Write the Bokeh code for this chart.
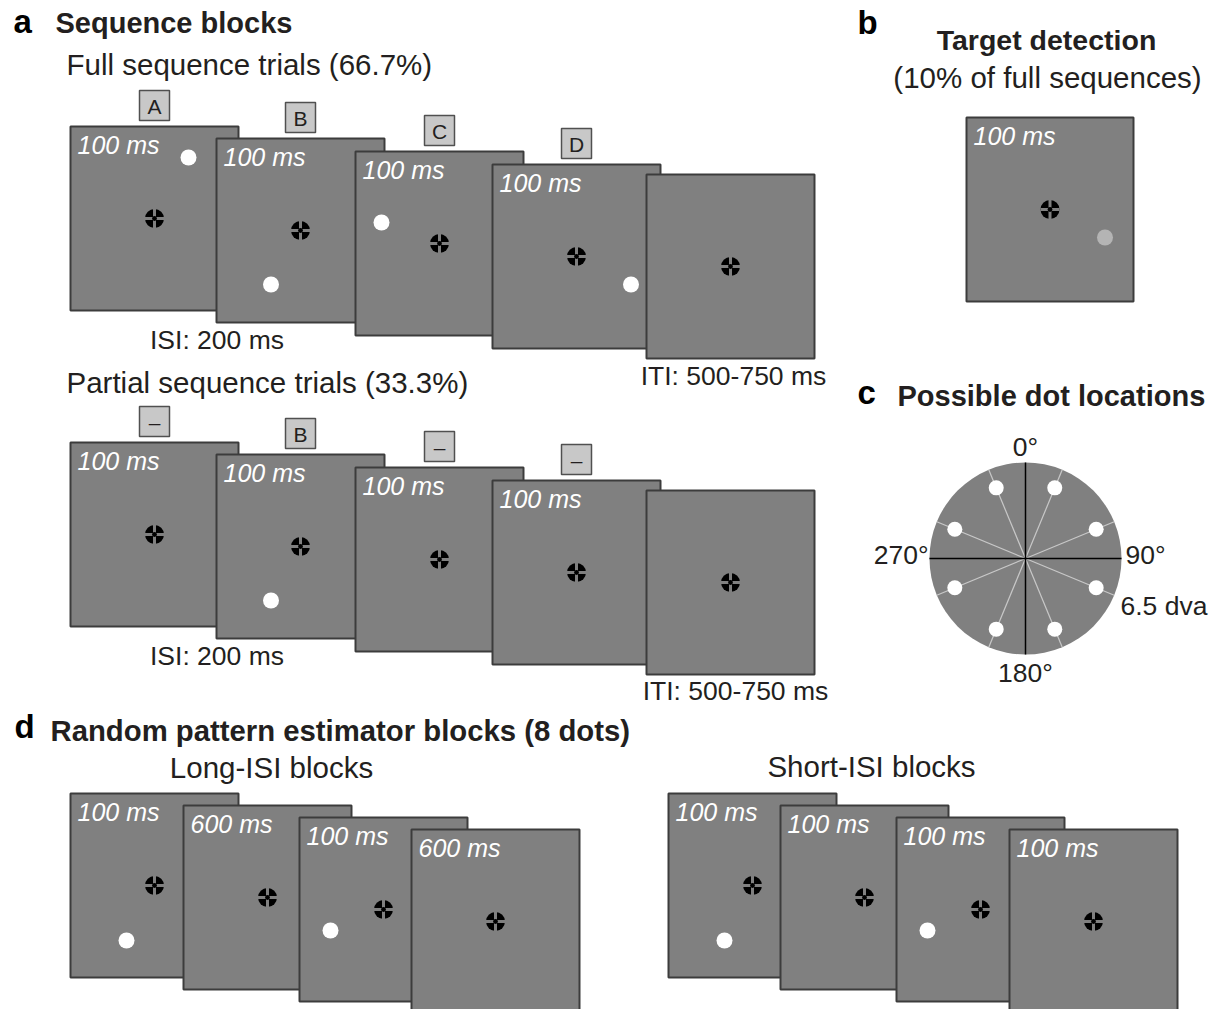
import numpy as np
from bokeh.plotting import figure
from bokeh.models import Range1d
from bokeh.core.properties import value
from bokeh.embed import file_html
from bokeh.resources import INLINE

# ---------------- content (labels / values) ----------------
full_labels = ["A", "B", "C", "D", None]
partial_labels = ["\u2013", "B", "\u2013", "\u2013", None]
seq_durations = ["100 ms", "100 ms", "100 ms", "100 ms", ""]
full_dot_dx = [34, -29.5, -58, 54.5, None]
full_dot_dy = [-61, 54, -21, 28, None]
partial_dot_dx = [None, -29.5, None, None, None]
partial_dot_dy = [None, 54, None, None, None]

long_durations = ["100 ms", "600 ms", "100 ms", "600 ms"]
short_durations = ["100 ms", "100 ms", "100 ms", "100 ms"]
est_dot_dx = [-28, None, -53, None]
est_dot_dy = [55, None, 21, None]

target_dot_dx = [55]
target_dot_dy = [28]

dot_angles_deg = [22.5, 67.5, 112.5, 157.5, 202.5, 247.5, 292.5, 337.5]
axis_angle_labels = ["0\u00b0", "90\u00b0", "180\u00b0", "270\u00b0"]

# ---------------- layout ----------------
W, H = 1217, 1009
FW, FH = 168, 184
FONT = value("Liberation Sans")
TXT = "#231f20"
FRAME_FILL = "#808080"
FRAME_LINE = "#3c3c3c"

p = figure(width=W, height=H, x_range=Range1d(0, W), y_range=Range1d(H, 0),
           output_backend="svg", toolbar_location=None, min_border=0,
           x_axis_location=None, y_axis_location=None)
p.grid.visible = False
p.outline_line_color = None


def txt(x, y, t, size, style="normal", align="left", color=TXT):
    """y is the text baseline; drawn with a 'middle' anchor at the cap centre."""
    p.text(x=[x], y=[y - 0.355 * size], text=[t], text_font=FONT,
           text_font_size=f"{size}px", text_font_style=style, text_align=align,
           text_baseline="middle", text_color=color)


def fixation(cx, cy):
    p.circle(x=[cx], y=[cy], radius=9.5, fill_color="black", line_color=None)
    p.rect(x=[cx, cx], y=[cy, cy], width=[19, 3], height=[3, 19],
           fill_color=FRAME_FILL, line_color=None)
    p.circle(x=[cx], y=[cy], radius=2.4, fill_color="black", line_color=None)


def frame(left, top, duration, dx=None, dy=None, label=None, dot_color="white", w=FW, h=FH):
    p.quad(left=[left], right=[left + w], top=[top], bottom=[top + h],
           fill_color=FRAME_FILL, line_color=FRAME_LINE, line_width=2)
    cx, cy = left + w / 2, top + h / 2
    if duration:
        txt(left + 7, top + 27, duration, 25, style="italic", color="white")
    fixation(cx, cy)
    if dx is not None:
        p.circle(x=[cx + dx], y=[cy + dy], radius=8, fill_color=dot_color, line_color=None)
    if label is not None:
        p.rect(x=[cx], y=[top - 21], width=30, height=30, fill_color="#c8c8c8",
               line_color="#505050", line_width=1.5)
        p.text(x=[cx], y=[top - 20], text=[label], text_font=FONT, text_font_size="21px",
               text_align="center", text_baseline="middle", text_color=TXT)


# ---------------- panel a ----------------
txt(13, 33, "a", 33, style="bold", color="black")
txt(55, 33, "Sequence blocks", 29, style="bold")
txt(66, 74, "Full sequence trials (66.7%)", 29.5)
seq_left = [70, 216, 355, 492, 646]
seq_top = [126, 138, 151, 164, 174]
for i in range(5):
    frame(seq_left[i], seq_top[i], seq_durations[i], full_dot_dx[i], full_dot_dy[i], full_labels[i])
txt(216.5, 349, "ISI: 200 ms", 26.5, align="center")
txt(733, 385, "ITI: 500-750 ms", 26.5, align="center")

ROW2 = 316
txt(66, 392, "Partial sequence trials (33.3%)", 29.5)
for i in range(5):
    frame(seq_left[i], seq_top[i] + ROW2, seq_durations[i], partial_dot_dx[i], partial_dot_dy[i],
          partial_labels[i])
txt(216.5, 349 + ROW2, "ISI: 200 ms", 26.5, align="center")
txt(735, 700, "ITI: 500-750 ms", 26.5, align="center")

# ---------------- panel b ----------------
txt(857, 34, "b", 33, style="bold", color="black")
txt(1046, 50, "Target detection", 28.5, style="bold", align="center")
txt(1047, 87, "(10% of full sequences)", 29.5, align="center")
frame(966, 117, "100 ms", target_dot_dx[0], target_dot_dy[0], None, dot_color="#b4b4b4", w=167)

# ---------------- panel c ----------------
txt(857, 404, "c", 33, style="bold", color="black")
txt(897, 406, "Possible dot locations", 29, style="bold")
ccx, ccy, R, rd = 1025, 558, 96, 76.5
p.circle(x=[ccx], y=[ccy], radius=R, fill_color=FRAME_FILL, line_color=None)
ang = np.deg2rad(np.array(dot_angles_deg))
p.segment(x0=[ccx] * len(ang), y0=[ccy] * len(ang), x1=list(ccx + R * np.sin(ang)),
          y1=list(ccy - R * np.cos(ang)), line_color="#c8c8c8", line_width=1.2)
p.segment(x0=[ccx - R, ccx], y0=[ccy, ccy - R], x1=[ccx + R, ccx], y1=[ccy, ccy + R],
          line_color="black", line_width=1.5)
p.circle(x=list(ccx + rd * np.sin(ang)), y=list(ccy - rd * np.cos(ang)), radius=7.5,
         fill_color="white", line_color=None)
txt(ccx, 456, axis_angle_labels[0], 26.5, align="center")
txt(1125, 564, axis_angle_labels[1], 26.5, align="left")
txt(ccx, 682, axis_angle_labels[2], 26.5, align="center")
txt(928, 564, axis_angle_labels[3], 26.5, align="right")
txt(1120, 615, "6.5 dva", 26.5, align="left")

# ---------------- panel d ----------------
txt(14, 738, "d", 33, style="bold", color="black")
txt(50, 740, "Random pattern estimator blocks (8 dots)", 29.3, style="bold")
txt(271, 777, "Long-ISI blocks", 29.5, align="center")
txt(871, 776, "Short-ISI blocks", 29.5, align="center")
long_left = [70, 183, 299, 411]
short_left = [668, 780, 896, 1009]
est_top = [793, 805, 817, 829]
for i in range(4):
    frame(long_left[i], est_top[i], long_durations[i], est_dot_dx[i], est_dot_dy[i])
for i in range(4):
    frame(short_left[i], est_top[i], short_durations[i], est_dot_dx[i], est_dot_dy[i])

open("out.html", "w").write(file_html(p, INLINE))
